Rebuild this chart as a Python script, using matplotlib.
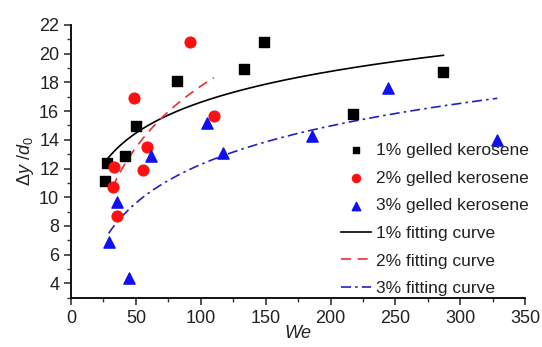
import numpy as np
import matplotlib
matplotlib.use("Agg")
import matplotlib.pyplot as plt
from matplotlib.ticker import MultipleLocator

plt.rcParams['font.family'] = ['Liberation Sans', 'DejaVu Sans']
plt.rcParams['mathtext.fontset'] = 'custom'
plt.rcParams['mathtext.rm'] = 'Liberation Sans'
plt.rcParams['mathtext.it'] = 'Liberation Sans:italic'

we_1 = [26, 27.5, 41.5, 50, 81.5, 133, 148.5, 217, 287]
dy_1 = [11.1, 12.4, 12.9, 14.95, 18.1, 18.9, 20.8, 15.8, 18.7]

we_2 = [32, 33, 35.4, 48.5, 55.4, 58.5, 91.5, 110]
dy_2 = [10.7, 12.1, 8.7, 16.9, 11.9, 13.5, 20.8, 15.65]

we_3 = [29, 35.4, 44.5, 61.5, 104.5, 117, 185.5, 244.5, 328.5]
dy_3 = [6.9, 9.7, 4.35, 12.9, 15.15, 13.1, 14.25, 17.6, 14.0]


def log_fit(x, y):
    # least squares y = a + b ln(x), drawn over the data range
    b, a = np.polyfit(np.log(x), y, 1)
    xs = np.linspace(min(x), max(x), 200)
    return xs, a + b * np.log(xs)


fig = plt.figure(figsize=(5.42, 3.47), dpi=100)
ax = fig.add_axes([0.131, 0.142, 0.838, 0.786])

ax.scatter(we_1, dy_1, marker='s', s=45, color='black', label='1% gelled kerosene', zorder=3)
ax.scatter(we_2, dy_2, marker='o', s=60, color='#ff1010', label='2% gelled kerosene', zorder=3)
ax.scatter(we_3, dy_3, marker='^', s=65, color='#1010f0', label='3% gelled kerosene', zorder=3)

xs, ys = log_fit(we_1, dy_1)
ax.plot(xs, ys, color='black', lw=1.2, label='1% fitting curve')
xs, ys = log_fit(we_2, dy_2)
ax.plot(xs, ys, color='#e83030', lw=1.2, dashes=(6, 4), label='2% fitting curve')
xs, ys = log_fit(we_3, dy_3)
ax.plot(xs, ys, color='#2020c8', lw=1.2, dashes=(6, 2.5, 1.5, 2.5), label='3% fitting curve')

ax.set_xlim(0, 350)
ax.set_ylim(3, 22)
ax.xaxis.set_major_locator(MultipleLocator(50))
ax.xaxis.set_minor_locator(MultipleLocator(25))
ax.yaxis.set_major_locator(MultipleLocator(2))
ax.yaxis.set_minor_locator(MultipleLocator(1))
ax.spines['top'].set_visible(False)
ax.spines['right'].set_visible(False)
for sp in ('left', 'bottom'):
    ax.spines[sp].set_linewidth(1.3)
ax.tick_params(which='major', length=5, width=1.2, labelsize=13, color='#333333', labelcolor='#222222')
ax.tick_params(which='minor', length=3, width=1.0, color='#333333')

ax.set_xlabel(r'$We$', fontsize=13, labelpad=-1, color='#222222')
ax.set_ylabel(r'$\Delta y\ /d_0$', fontsize=13, labelpad=2, color='#222222')

ax.legend(loc='upper left', bbox_to_anchor=(0.595, 0.568), frameon=False,
          fontsize=12.5, borderpad=0, borderaxespad=0, handlelength=1.7,
          handletextpad=0.3, labelspacing=0.72, scatterpoints=1,
          markerscale=0.75, labelcolor='#222222')

fig.savefig('out.png', dpi=100)
